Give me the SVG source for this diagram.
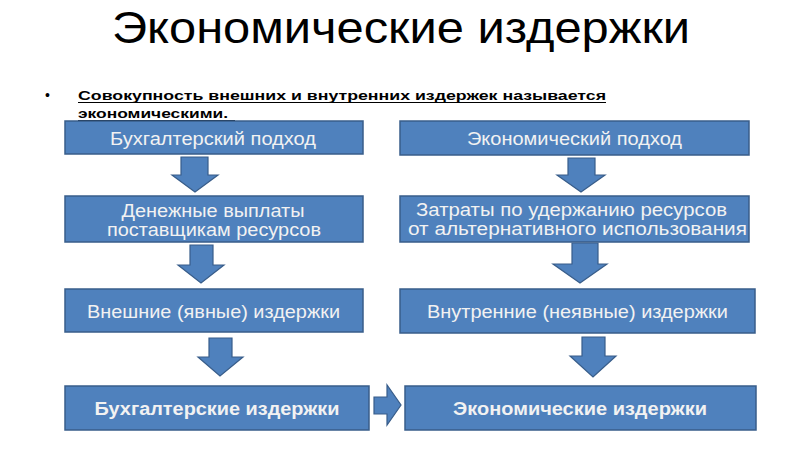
<svg xmlns="http://www.w3.org/2000/svg" width="800" height="450" viewBox="0 0 800 450">
<style>
.box{fill:#4F81BD;stroke:#385D8A;stroke-width:1.5}
.arr{fill:#4F81BD;stroke:#385D8A;stroke-width:1.2}
.t{font-family:"Liberation Sans",Arial,sans-serif;font-size:17.5px;fill:#F2F2F2;text-anchor:middle}
.b{font-weight:bold}
.title{font-family:"Liberation Sans",Arial,sans-serif;font-size:45px;fill:#000}
.sub{font-family:"Liberation Sans",Arial,sans-serif;font-size:13.5px;font-weight:bold;fill:#000}
</style>
<rect width="800" height="450" fill="#fff"/>
<text class="title" x="112" y="43" textLength="578" lengthAdjust="spacingAndGlyphs">Экономические издержки</text>
<text class="sub" x="45" y="100" style="font-weight:normal;font-size:14px">•</text>
<text class="sub" x="78" y="100" textLength="528" lengthAdjust="spacingAndGlyphs">Совокупность внешних и внутренних издержек называется</text>
<line x1="78" y1="102.5" x2="606" y2="102.5" stroke="#000" stroke-width="1.2"/>
<text class="sub" x="78" y="118" textLength="150" lengthAdjust="spacingAndGlyphs">экономическими.</text>
<line x1="78" y1="120.5" x2="235" y2="120.5" stroke="#000" stroke-width="1.2"/>

<g id="connectors">
<polygon class="arr" points="181,157 208,157 208,175 218,175 195,192 172,175 181,175"/>
<polygon class="arr" points="190,245 213,245 213,265 224,265 201,283 178,265 190,265"/>
<polygon class="arr" points="209,338 232,338 232,357 243,357 220,376 198,357 209,357"/>
<polygon class="arr" points="568,158 595,158 595,175 605,175 581,192 557,175 568,175"/>
<polygon class="arr" points="572,243 598,243 598,264 607,264 580,283 553,264 572,264"/>
<polygon class="arr" points="582,337 605,337 605,356 616,356 593,377 570,356 582,356"/>
<polygon class="arr" points="374,397 387,397 387,385 401,405 387,425 387,414 374,414"/>
</g>

<g id="n1"><rect class="box" x="65" y="121" width="298" height="33"/><text class="t" x="213" y="145" textLength="206" lengthAdjust="spacingAndGlyphs">Бухгалтерский подход</text></g>
<g id="n2"><rect class="box" x="65" y="196" width="298" height="46"/><text class="t" x="213" y="217" textLength="183" lengthAdjust="spacingAndGlyphs">Денежные выплаты</text><text class="t" x="214" y="236" textLength="214" lengthAdjust="spacingAndGlyphs">поставщикам ресурсов</text></g>
<g id="n3"><rect class="box" x="65" y="289" width="298" height="43"/><text class="t" x="213.5" y="318" textLength="253" lengthAdjust="spacingAndGlyphs">Внешние (явные) издержки</text></g>
<g id="n4"><rect class="box" x="65" y="386" width="304" height="44"/><text class="t b" x="217" y="415" textLength="245" lengthAdjust="spacingAndGlyphs">Бухгалтерские издержки</text></g>
<g id="n5"><rect class="box" x="400" y="121" width="349" height="34"/><text class="t" x="574.5" y="145" textLength="215" lengthAdjust="spacingAndGlyphs">Экономический подход</text></g>
<g id="n6"><rect class="box" x="400" y="196" width="349" height="46"/><text class="t" x="571.5" y="216" textLength="311" lengthAdjust="spacingAndGlyphs">Затраты по удержанию ресурсов</text><text class="t" x="577.5" y="235" textLength="339" lengthAdjust="spacingAndGlyphs">от альтернативного использования</text></g>
<g id="n7"><rect class="box" x="400" y="289" width="355" height="44"/><text class="t" x="577.5" y="318" textLength="301" lengthAdjust="spacingAndGlyphs">Внутренние (неявные) издержки</text></g>
<g id="n8"><rect class="box" x="405" y="386" width="351" height="44"/><text class="t b" x="580" y="415" textLength="254" lengthAdjust="spacingAndGlyphs">Экономические издержки</text></g>
</svg>
